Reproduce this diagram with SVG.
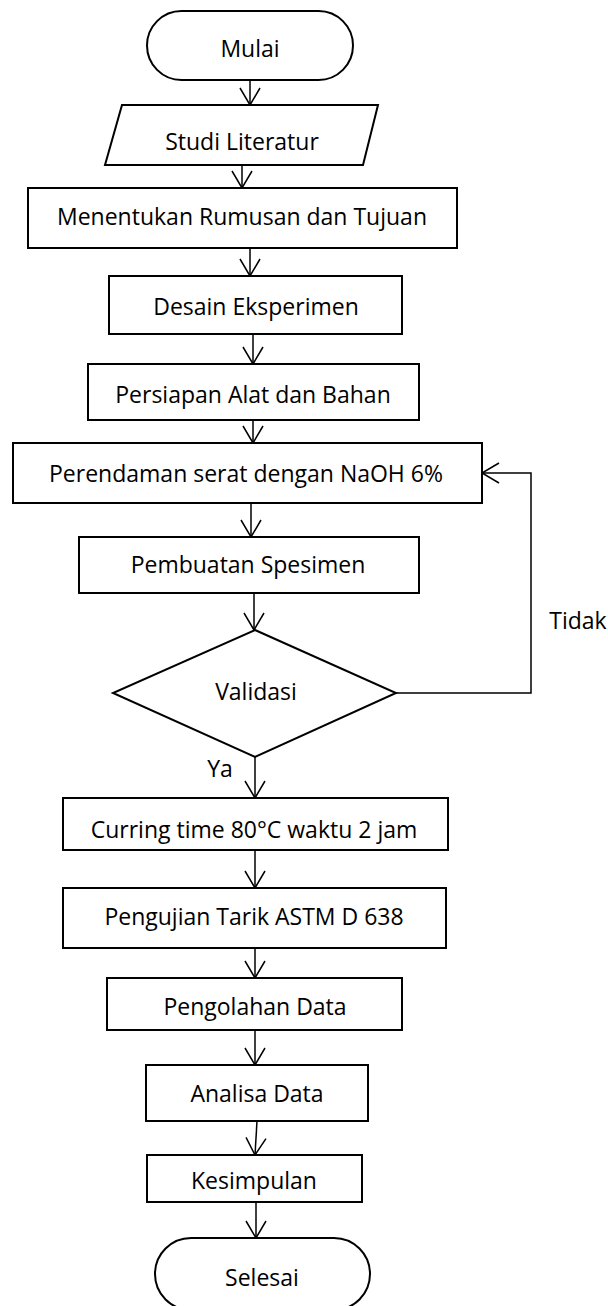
<svg xmlns="http://www.w3.org/2000/svg" width="608" height="1306" viewBox="0 0 608 1306">
<style>
.n{fill:#fff;stroke:#000;stroke-width:2}
.t{font-family:"Open Sans","Noto Sans","DejaVu Sans",sans-serif;font-size:23px;fill:#000;text-anchor:middle}
.c{fill:none;stroke:#000;stroke-width:1.5}
</style>
<defs>
<marker id="ah" markerUnits="userSpaceOnUse" markerWidth="22" markerHeight="24" refX="18" refY="11" orient="auto" viewBox="0 0 22 24">
<path d="M1,1 L18,11 L1,21" fill="none" stroke="#000" stroke-width="1.5"/>
</marker>
</defs>
<rect width="608" height="1306" fill="#fff"/>
<g id="connectors">
<line class="c" x1="250" y1="80" x2="250" y2="105" marker-end="url(#ah)"/>
<line class="c" x1="242" y1="165" x2="242" y2="188" marker-end="url(#ah)"/>
<line class="c" x1="250" y1="248" x2="250" y2="276" marker-end="url(#ah)"/>
<line class="c" x1="253" y1="334" x2="253" y2="364" marker-end="url(#ah)"/>
<line class="c" x1="253" y1="420" x2="253" y2="443" marker-end="url(#ah)"/>
<line class="c" x1="251" y1="503" x2="251" y2="537" marker-end="url(#ah)"/>
<line class="c" x1="254" y1="593" x2="254" y2="630" marker-end="url(#ah)"/>
<polyline class="c" points="396,693 531,693 531,473 482,473" marker-end="url(#ah)"/>
<line class="c" x1="255" y1="757" x2="255" y2="798" marker-end="url(#ah)"/>
<line class="c" x1="255" y1="850" x2="255" y2="888" marker-end="url(#ah)"/>
<line class="c" x1="255" y1="948" x2="255" y2="978" marker-end="url(#ah)"/>
<line class="c" x1="255" y1="1030" x2="255" y2="1065" marker-end="url(#ah)"/>
<line class="c" x1="257" y1="1121" x2="255" y2="1155" marker-end="url(#ah)"/>
<line class="c" x1="256" y1="1202" x2="256" y2="1238" marker-end="url(#ah)"/>
<text class="t" x="578" y="629">Tidak</text>
<text class="t" x="220" y="777">Ya</text>
</g>
<g id="mulai"><rect class="n" x="147" y="11" width="206" height="69" rx="34.5"/><text class="t" x="250" y="57">Mulai</text></g>
<g id="studi"><polygon class="n" points="122,105 378,105 363,165 105,165"/><text class="t" x="242" y="150">Studi Literatur</text></g>
<g id="menentukan"><rect class="n" x="28" y="188" width="429" height="60"/><text class="t" x="242" y="225">Menentukan Rumusan dan Tujuan</text></g>
<g id="desain"><rect class="n" x="109" y="276" width="293" height="58"/><text class="t" x="256" y="315">Desain Eksperimen</text></g>
<g id="persiapan"><rect class="n" x="88" y="364" width="331" height="56"/><text class="t" x="253" y="403">Persiapan Alat dan Bahan</text></g>
<g id="perendaman"><rect class="n" x="13" y="443" width="469" height="60"/><text class="t" x="246" y="482">Perendaman serat dengan NaOH 6%</text></g>
<g id="pembuatan"><rect class="n" x="79" y="537" width="340" height="56"/><text class="t" x="248" y="573">Pembuatan Spesimen</text></g>
<g id="validasi"><polygon class="n" points="255,630 396,693 255,757 113,693"/><text class="t" x="256" y="700">Validasi</text></g>
<g id="curring"><rect class="n" x="63" y="798" width="385" height="52"/><text class="t" x="254" y="838">Curring time 80°C waktu 2 jam</text></g>
<g id="pengujian"><rect class="n" x="63" y="888" width="383" height="60"/><text class="t" x="254" y="925">Pengujian Tarik ASTM D 638</text></g>
<g id="pengolahan"><rect class="n" x="107" y="978" width="295" height="52"/><text class="t" x="255" y="1015">Pengolahan Data</text></g>
<g id="analisa"><rect class="n" x="146" y="1065" width="222" height="56"/><text class="t" x="257" y="1102">Analisa Data</text></g>
<g id="kesimpulan"><rect class="n" x="147" y="1155" width="215" height="47"/><text class="t" x="254" y="1189">Kesimpulan</text></g>
<g id="selesai"><rect class="n" x="155" y="1238" width="215" height="72" rx="36"/><text class="t" x="262" y="1286">Selesai</text></g>
</svg>
